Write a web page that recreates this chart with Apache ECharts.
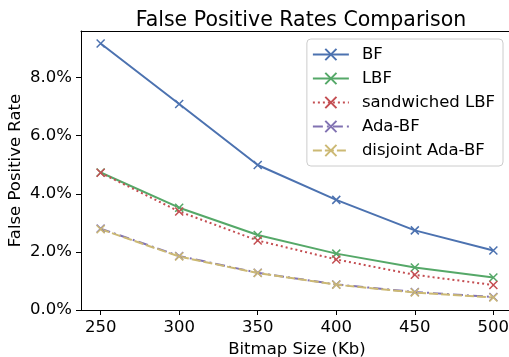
<!DOCTYPE html>
<html>
<head>
<meta charset="utf-8">
<script src="https://cdn.jsdelivr.net/npm/echarts@6/dist/echarts.min.js"></script>
<style>
  html, body { margin: 0; padding: 0; background: #fff; }
  #chart { width: 509px; height: 357px; }
</style>
</head>
<body>
<div id="chart"></div>
<script>
// 位图大小 (Kb)
const sizes = [250, 300, 350, 400, 450, 500]
// 假阳性率 (%)
const bf = [9.17, 7.09, 4.99, 3.79, 2.74, 2.05]
const lbf = [4.73, 3.52, 2.58, 1.94, 1.46, 1.12]
const sandwichedLbf = [4.72, 3.39, 2.39, 1.74, 1.21, 0.86]
const adaBf = [2.80, 1.86, 1.28, 0.88, 0.62, 0.45]
const disjointAdaBf = [2.78, 1.84, 1.27, 0.87, 0.60, 0.43]
const xTicks = [250, 300, 350, 400, 450, 500]
const yTicks = [0, 2, 4, 6, 8]

const font = 'DejaVu Sans'
const xMark = 'path://M0,0L10,10M10,0L0,10'

const makeSeries = (name, values, color, type) => ({
  name,
  type: 'line',
  data: sizes.map((s, i) => [s, values[i]]),
  symbol: xMark,
  symbolSize: 8,
  lineStyle: { color, width: 2, type },
  itemStyle: { color: 'none', borderColor: color, borderWidth: 1.5 },
  emphasis: { disabled: true },
  animation: false
})

const chart = echarts.init(document.getElementById('chart'))
chart.setOption({
  animation: false,
  title: {
    text: 'False Positive Rates Comparison',
    left: 296,
    top: 5,
    textAlign: 'center',
    textStyle: { fontFamily: font, fontSize: 20.5, fontWeight: 'normal', color: '#000' }
  },
  grid: {
    left: 81, top: 31, right: -4, bottom: 47,
    outerBoundsMode: 'none'
  },
  legend: {
    right: 6,
    top: 39,
    orient: 'vertical',
    itemWidth: 36,
    itemHeight: 14,
    itemGap: 7,
    padding: [7, 8, 7, 5],
    borderColor: '#ccc',
    borderWidth: 1,
    borderRadius: 4,
    backgroundColor: 'rgba(255,255,255,0.8)',
    textStyle: { fontFamily: font, fontSize: 16.5, color: '#000', padding: [0, 0, 0, 8] }
  },
  xAxis: [
    {
      type: 'value',
      min: 237.5,
      max: 512.5,
      name: 'Bitmap Size (Kb)',
      nameLocation: 'middle',
      nameGap: 30,
      nameTextStyle: { fontFamily: font, fontSize: 16.5, color: '#000' },
      axisLine: { onZero: false, lineStyle: { color: '#000' } },
      axisTick: { customValues: xTicks, length: 5, lineStyle: { color: '#000' } },
      axisLabel: { customValues: xTicks, fontFamily: font, fontSize: 16.5, color: '#000', margin: 9 },
      splitLine: { show: false }
    },
    {
      // 上边框
      type: 'value',
      position: 'top',
      min: 237.5,
      max: 512.5,
      axisLine: { show: true, onZero: false, lineStyle: { color: '#000' } },
      axisTick: { show: false },
      axisLabel: { show: false },
      splitLine: { show: false }
    }
  ],
  yAxis: {
    type: 'value',
    position: 'left',
    min: 0,
    max: 9.6,
    name: 'False Positive Rate',
    nameLocation: 'middle',
    nameGap: 57,
    nameMoveOverlap: false,
    nameTextStyle: { fontFamily: font, fontSize: 16.5, color: '#000' },
    axisLine: { show: true, onZero: false, lineStyle: { color: '#000' } },
    axisTick: { show: true, customValues: yTicks, length: 5, lineStyle: { color: '#000' } },
    axisLabel: {
      customValues: yTicks, fontFamily: font, fontSize: 16.5, color: '#000', margin: 9,
      formatter: v => v.toFixed(1) + '%'
    },
    splitLine: { show: false }
  },
  series: [
    makeSeries('BF', bf, '#4C72B0', 'solid'),
    makeSeries('LBF', lbf, '#55A868', 'solid'),
    makeSeries('sandwiched LBF', sandwichedLbf, '#C44E52', [2, 3]),
    makeSeries('Ada-BF', adaBf, '#8172B2', [10, 4, 2, 4]),
    makeSeries('disjoint Ada-BF', disjointAdaBf, '#CCB974', [9, 3])
  ]
})
</script>
</body>
</html>
